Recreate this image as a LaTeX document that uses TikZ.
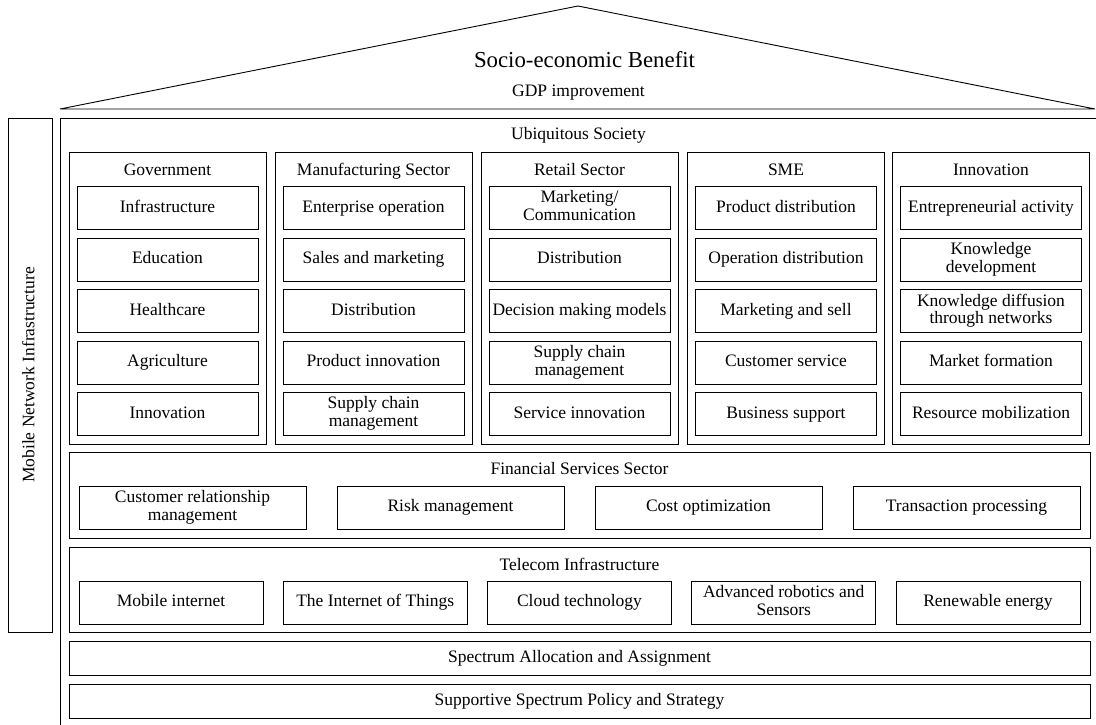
\documentclass[tikz,border=0pt]{standalone}
\usepackage{fontspec}
\setmainfont{Liberation Serif}
\newcommand\boxstrut{\rule[-4.5pt]{0pt}{17.7pt}}
\begin{document}
\begin{tikzpicture}[x=1pt,y=-1pt,line width=0.9pt,
    every node/.style={font=\fontsize{17.5}{17.7}\selectfont,inner sep=0pt,align=center,
      execute at begin node=\boxstrut,execute at end node=\boxstrut},
    frame/.style={draw,minimum width=1021pt},
    sector/.style={draw,minimum width=197pt,minimum height=292pt},
    item/.style={draw,minimum width=181pt,minimum height=43pt},
    fin/.style={draw,minimum width=227pt,minimum height=43pt},
    tech/.style={draw,minimum width=184pt,minimum height=43pt}]
  \useasboundingbox (0,0) rectangle (1096,724);
  \clip (0,0) rectangle (1096,724);

  % roof
  \coordinate (rl) at (60,109);
  \coordinate (rt) at (578,6);
  \coordinate (rr) at (1095,109);
  \draw (rl) -- (rt) -- (rr) -- cycle;
  \node[font=\fontsize{22.8}{24}\selectfont] (benefit) at (584.5,61.5) {Socio-economic Benefit};
  \node (gdp) at (578.5,92.4) {GDP improvement};

  % pillar and house body
  \node[draw,rotate=90,minimum width=514pt,minimum height=44pt] (mni) at (30,375) {Mobile Network Infrastructure};
  \draw (60,118) rectangle (1098,727);
  \node (ubi) at (578.5,135.5) {Ubiquitous Society};

  % sectors
  \node[sector] (gov) at (167.5,298) {};
  \node[sector] (man) at (373.5,298) {};
  \node[sector] (ret) at (579.5,298) {};
  \node[sector] (sme) at (786,298) {};
  \node[sector] (inn) at (991,298) {};
  \node (govt) at (167.5,171.4) {Government};
  \node (mant) at (373.5,171.4) {Manufacturing Sector};
  \node (rett) at (579.5,171.4) {Retail Sector};
  \node (smet) at (786,171.4) {SME};
  \node (innt) at (991,171.4) {Innovation};

  \node[item] (gov1) at (167.5,208) {Infrastructure};
  \node[item] (gov2) at (167.5,259.5) {Education};
  \node[item] (gov3) at (167.5,311) {Healthcare};
  \node[item] (gov4) at (167.5,362.5) {Agriculture};
  \node[item] (gov5) at (167.5,414) {Innovation};

  \node[item] (man1) at (373.5,208) {Enterprise operation};
  \node[item] (man2) at (373.5,259.5) {Sales and marketing};
  \node[item] (man3) at (373.5,311) {Distribution};
  \node[item] (man4) at (373.5,362.5) {Product innovation};
  \node[item] (man5) at (373.5,414) {Supply chain\\management};

  \node[item] (ret1) at (579.5,208) {Marketing/\\Communication};
  \node[item] (ret2) at (579.5,259.5) {Distribution};
  \node[item] (ret3) at (579.5,311) {Decision making models};
  \node[item] (ret4) at (579.5,362.5) {Supply chain\\management};
  \node[item] (ret5) at (579.5,414) {Service innovation};

  \node[item] (sme1) at (786,208) {Product distribution};
  \node[item] (sme2) at (786,259.5) {Operation distribution};
  \node[item] (sme3) at (786,311) {Marketing and sell};
  \node[item] (sme4) at (786,362.5) {Customer service};
  \node[item] (sme5) at (786,414) {Business support};

  \node[item] (inn1) at (991,208) {Entrepreneurial activity};
  \node[item] (inn2) at (991,259.5) {Knowledge\\development};
  \node[item] (inn3) at (991,311) {Knowledge diffusion\\through networks};
  \node[item] (inn4) at (991,362.5) {Market formation};
  \node[item] (inn5) at (991,414) {Resource mobilization};

  % financial services
  \node[frame,minimum height=86pt] (fss) at (579.5,495) {};
  \node (fsst) at (579.5,470.5) {Financial Services Sector};
  \node[fin] (fss1) at (192.5,507.5) {Customer relationship\\management};
  \node[fin] (fss2) at (450.5,507.5) {Risk management};
  \node[fin] (fss3) at (708.5,507.5) {Cost optimization};
  \node[fin] (fss4) at (966.5,507.5) {Transaction processing};

  % telecom
  \node[frame,minimum height=85pt] (tel) at (579.5,589.5) {};
  \node (telt) at (579.5,566.5) {Telecom Infrastructure};
  \node[tech] (tel1) at (171,602.5) {Mobile internet};
  \node[tech] (tel2) at (375.25,602.5) {The Internet of Things};
  \node[tech] (tel3) at (579.5,602.5) {Cloud technology};
  \node[tech] (tel4) at (783.75,602.5) {Advanced robotics and\\Sensors};
  \node[tech] (tel5) at (988,602.5) {Renewable energy};

  % spectrum foundation
  \node[frame,minimum height=34pt] (alloc) at (579.5,658) {Spectrum Allocation and Assignment};
  \node[frame,minimum height=34pt] (policy) at (579.5,701) {Supportive Spectrum Policy and Strategy};
\end{tikzpicture}
\end{document}
